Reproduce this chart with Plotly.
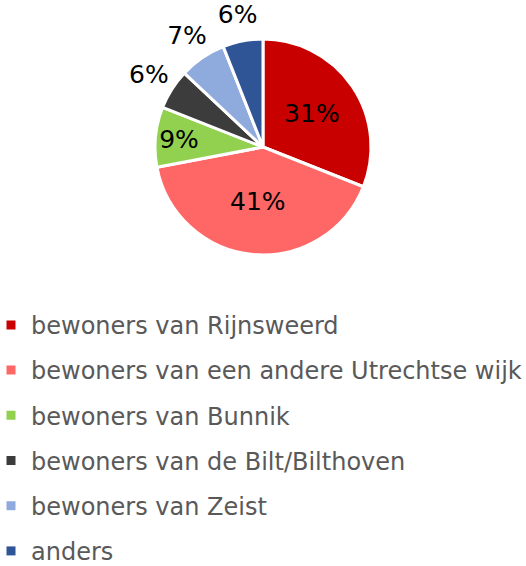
import plotly.graph_objects as go

labels = ['bewoners van Rijnsweerd', 'bewoners van een andere Utrechtse wijk',
          'bewoners van Bunnik', 'bewoners van de Bilt/Bilthoven',
          'bewoners van Zeist', 'anders']
values = [31, 41, 9, 6, 7, 6]
colors = ['#C80000', '#FF6666', '#92D050', '#3C3C3C', '#8FAADC', '#2F5597']
inner_pos = ['inside', 'inside', 'inside', 'none', 'none', 'none']
outer_pos = ['none', 'none', 'none', 'inside', 'inside', 'inside']

fig = go.Figure()
fig.add_trace(go.Pie(labels=labels, values=values, sort=False, direction='clockwise',
                     rotation=0, textinfo='percent', textposition=inner_pos,
                     insidetextorientation='horizontal',
                     textfont=dict(family='DejaVu Sans', size=25, color='black'),
                     marker=dict(colors=colors, line=dict(color='white', width=3)),
                     domain=dict(x=[0.2947, 0.7053], y=[0.5495, 0.931]),
                     showlegend=False, hoverinfo='label+percent'))
# transparent ring round the pie that carries the labels of the small slices
fig.add_trace(go.Pie(labels=labels, values=values, sort=False, direction='clockwise',
                     rotation=0, textinfo='percent', textposition=outer_pos,
                     insidetextorientation='horizontal', hole=0.84,
                     textfont=dict(family='DejaVu Sans', size=25, color='black'),
                     marker=dict(colors=['rgba(0,0,0,0)'] * 6, line=dict(width=0)),
                     domain=dict(x=[0.2205, 0.7795], y=[0.4806, 1.0]),
                     showlegend=False, hoverinfo='skip'))

# legend entries as dummy traces so the row gap can be set
for i in range(len(labels)):
    fig.add_trace(go.Scatter(x=[None], y=[None], mode='markers', name=labels[i],
                             legendgroup=str(i),
                             marker=dict(symbol='square', size=9, color=colors[i])))

fig.update_xaxes(visible=False)
fig.update_yaxes(visible=False)
fig.update_layout(width=526, height=566,
                  margin=dict(l=0, r=0, t=0, b=0, autoexpand=False),
                  paper_bgcolor='white', plot_bgcolor='white',
                  font=dict(family='DejaVu Sans'),
                  uniformtext=dict(mode='show', minsize=25),
                  legend=dict(x=0, y=0.465, xanchor='left', yanchor='top',
                              indentation=-9,
                              traceorder='grouped', tracegroupgap=11,
                              font=dict(size=24, color='#595959')))
# page body has an 8px default margin, drop it so the figure fills the window
fig.write_html('out.html', config={'displayModeBar': False},
               post_script="document.body.style.margin='0';")
